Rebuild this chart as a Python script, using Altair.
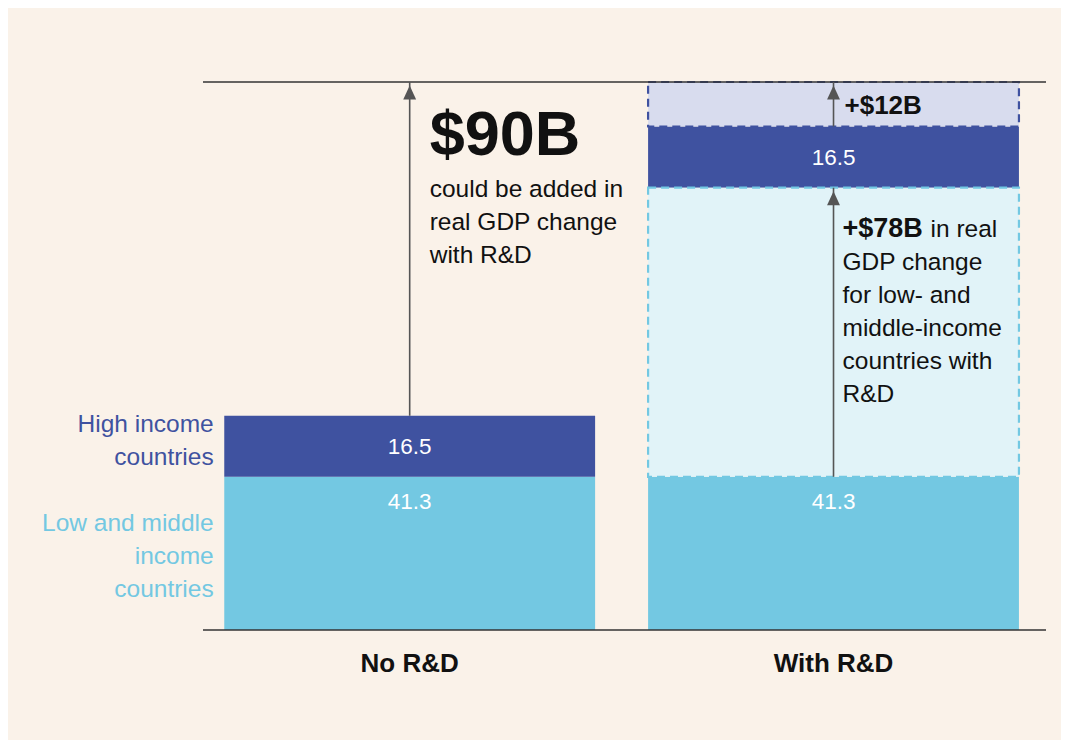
import altair as alt
import pandas as pd

# ---- data ----
scenarios = ["No R&D", "With R&D"]
low_mid_base = [41.3, 41.3]      # Low and middle income countries
high_income = [16.5, 16.5]       # High income countries
low_mid_gain = [0.0, 78.0]       # +$78B with R&D
high_gain = [0.0, 12.0]          # +$12B with R&D
segment_names = ["Low and middle\nincome\ncountries", "High income\ncountries"]

DARK = "#3F52A0"
LIGHT = "#73C8E2"
LIGHT_FILL = "#E1F3F8"
LAV_FILL = "#D8DCEE"
BG = "#FAF2E9"
INK = "#111111"
ARROW = "#555555"
FONT = "Liberation Sans"
BODY = 24.5

solid, dashed, arrows, values = [], [], [], []
for i, s in enumerate(scenarios):
    lo, g1, hi, g2 = low_mid_base[i], low_mid_gain[i], high_income[i], high_gain[i]
    solid.append(dict(scenario=s, segment="low", y0=0.0, y1=lo))
    solid.append(dict(scenario=s, segment="high", y0=lo + g1, y1=lo + g1 + hi))
    values.append(dict(scenario=s, y=lo, text=f"{lo}", kind="low"))
    values.append(dict(scenario=s, y=lo + g1 + hi / 2, text=f"{hi}", kind="high"))
    if g1:
        dashed.append(dict(scenario=s, kind="low", y0=lo, y1=lo + g1))
        arrows.append(dict(scenario=s, y0=lo, y1=lo + g1))
    if g2:
        dashed.append(dict(scenario=s, kind="high", y0=lo + g1 + hi, y1=lo + g1 + hi + g2))
        arrows.append(dict(scenario=s, y0=lo + g1 + hi, y1=lo + g1 + hi + g2))

totals = [low_mid_base[i] + low_mid_gain[i] + high_income[i] + high_gain[i] for i in range(2)]
top = max(totals)
arrows.insert(0, dict(scenario=scenarios[0], y0=totals[0], y1=top))

solid_df = pd.DataFrame(solid)
dashed_df = pd.DataFrame(dashed)
arrow_df = pd.DataFrame(arrows)
val_df = pd.DataFrame(values)

x_enc = alt.X(
    "scenario:N",
    sort=scenarios,
    scale=alt.Scale(domain=scenarios, paddingInner=0.125, paddingOuter=0.057, align=0.44),
    axis=alt.Axis(
        title=None, domain=False, ticks=False, labelAngle=0,
        labelFont=FONT, labelFontSize=26, labelFontWeight="bold",
        labelColor=INK, labelPadding=20,
    ),
)
y_scale = alt.Scale(domain=[0, top], nice=False, zero=True)


def Y(field):
    return alt.Y(field, scale=y_scale, axis=None)


bars = alt.Chart(solid_df).mark_bar().encode(
    x=x_enc,
    y=Y("y0:Q"),
    y2="y1:Q",
    color=alt.Color("segment:N", scale=alt.Scale(domain=["low", "high"], range=[LIGHT, DARK]), legend=None),
)

dash_bars = alt.Chart(dashed_df).mark_bar(strokeWidth=2.2, strokeDash=[8, 5]).encode(
    x=x_enc,
    y=Y("y0:Q"),
    y2="y1:Q",
    fill=alt.Fill("kind:N", scale=alt.Scale(domain=["low", "high"], range=[LIGHT_FILL, LAV_FILL]), legend=None),
    stroke=alt.Stroke("kind:N", scale=alt.Scale(domain=["low", "high"], range=[LIGHT, DARK]), legend=None),
)

rule_df = pd.DataFrame({"y": [0.0, top]})
hrules = alt.Chart(rule_df).mark_rule(color="#333333", strokeWidth=1.6).encode(y=Y("y:Q"))

arrow_lines = alt.Chart(arrow_df).mark_rule(color=ARROW, strokeWidth=1.6).encode(
    x=x_enc, y=Y("y0:Q"), y2="y1:Q"
)
arrow_heads = alt.Chart(arrow_df).mark_point(
    shape="M0,0.25 L-0.46,1.25 L0.46,1.25 Z", filled=True, size=784, color=ARROW, opacity=1
).encode(x=x_enc, y=Y("y1:Q"))

val_low = alt.Chart(val_df[val_df.kind == "low"]).mark_text(
    color="white", font=FONT, fontSize=22.5, baseline="middle", dy=25
).encode(x=x_enc, y=Y("y:Q"), text="text:N")
val_high = alt.Chart(val_df[val_df.kind == "high"]).mark_text(
    color="white", font=FONT, fontSize=22.5, baseline="middle", dy=1
).encode(x=x_enc, y=Y("y:Q"), text="text:N")

# category labels to the left of the first bar
hi_df = pd.DataFrame([dict(scenario=scenarios[0], y=(solid[1]["y0"] + solid[1]["y1"]) / 2,
                           text=segment_names[1])])
lo_df = pd.DataFrame([dict(scenario=scenarios[0], y=(solid[0]["y0"] + solid[0]["y1"]) / 2,
                           text=segment_names[0])])
hi_label = alt.Chart(hi_df).mark_text(
    align="right", baseline="middle", dx=-196, dy=-21, font=FONT, fontSize=BODY, lineBreak="\n",
    lineHeight=33, color=DARK
).encode(x=x_enc, y=Y("y:Q"), text="text:N")
lo_label = alt.Chart(lo_df).mark_text(
    align="right", baseline="middle", dx=-196, dy=-29, font=FONT, fontSize=BODY, lineBreak="\n",
    lineHeight=33, color=LIGHT
).encode(x=x_enc, y=Y("y:Q"), text="text:N")

# annotations
big_gain = sum(low_mid_gain) + sum(high_gain)
ann1 = pd.DataFrame([dict(scenario=scenarios[0], y=top, text=f"${big_gain:.0f}B")])
big = alt.Chart(ann1).mark_text(
    align="left", baseline="alphabetic", dx=20, dy=73, font=FONT, fontSize=63, fontWeight="bold", color=INK
).encode(x=x_enc, y=Y("y:Q"), text="text:N")
ann1b = pd.DataFrame([dict(scenario=scenarios[0], y=top, text="could be added in\nreal GDP change\nwith R&D")])
big_sub = alt.Chart(ann1b).mark_text(
    align="left", baseline="alphabetic", dx=20, dy=115, font=FONT, fontSize=BODY, lineBreak="\n",
    lineHeight=33, color=INK
).encode(x=x_enc, y=Y("y:Q"), text="text:N")

ann2 = pd.DataFrame([dict(scenario=scenarios[1], y=top, text=f"+${high_gain[1]:.0f}B")])
g12 = alt.Chart(ann2).mark_text(
    align="left", baseline="alphabetic", dx=11, dy=32, font=FONT, fontSize=26, fontWeight="bold", color=INK
).encode(x=x_enc, y=Y("y:Q"), text="text:N")

ann3y = low_mid_base[1] + low_mid_gain[1]
ann3 = pd.DataFrame([dict(scenario=scenarios[1], y=ann3y, text=f"+${low_mid_gain[1]:.0f}B")])
g78 = alt.Chart(ann3).mark_text(
    align="left", baseline="alphabetic", dx=9, dy=49, font=FONT, fontSize=27, fontWeight="bold", color=INK
).encode(x=x_enc, y=Y("y:Q"), text="text:N")
ann3b = pd.DataFrame([dict(scenario=scenarios[1], y=ann3y, text="in real")])
g78b = alt.Chart(ann3b).mark_text(
    align="left", baseline="alphabetic", dx=97, dy=49, font=FONT, fontSize=BODY, color=INK
).encode(x=x_enc, y=Y("y:Q"), text="text:N")
ann3c = pd.DataFrame([dict(scenario=scenarios[1], y=ann3y,
                           text="GDP change\nfor low- and\nmiddle-income\ncountries with\nR&D")])
g78c = alt.Chart(ann3c).mark_text(
    align="left", baseline="alphabetic", dx=9, dy=82, font=FONT, fontSize=BODY, lineBreak="\n",
    lineHeight=33, color=INK
).encode(x=x_enc, y=Y("y:Q"), text="text:N")

chart = alt.layer(
    bars, dash_bars, hrules, arrow_lines, arrow_heads, val_low, val_high, hi_label, lo_label,
    big, big_sub, g12, g78, g78b, g78c,
).properties(
    width=843, height=548,
    padding={"left": 195, "top": 74, "right": 15, "bottom": 110},
    autosize=alt.AutoSizeParams(type="none"),
    background=BG,
).configure_view(stroke=None)

chart.save("out.html", embed_options={"renderer": "svg", "actions": False})
